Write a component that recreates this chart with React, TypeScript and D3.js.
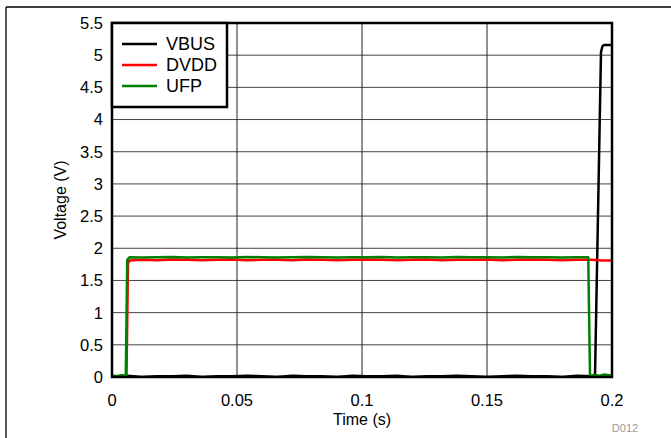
import React from "react";
import * as d3 from "d3";

// Time (s), Voltage (V) samples
const vbusT = [0, 0.006, 0.012, 0.018, 0.024, 0.03, 0.036, 0.042, 0.048, 0.054, 0.06, 0.066, 0.072, 0.078, 0.084, 0.09, 0.096, 0.102, 0.108, 0.114, 0.12, 0.126, 0.132, 0.138, 0.144, 0.15, 0.156, 0.162, 0.168, 0.174, 0.18, 0.186, 0.1925, 0.1932, 0.1956, 0.1962, 0.1968, 0.2];
const vbusV = [0.01, 0.02, 0.0, 0.01, 0.01, 0.02, 0.0, 0.01, 0.01, 0.02, 0.01, 0.0, 0.02, 0.01, 0.01, 0.0, 0.02, 0.01, 0.01, 0.02, 0.0, 0.01, 0.01, 0.02, 0.01, 0.0, 0.01, 0.02, 0.01, 0.01, 0.0, 0.02, 0.01, 0.01, 5.05, 5.14, 5.16, 5.16];

const dvddT = [0, 0.003, 0.0058, 0.0064, 0.007, 0.012, 0.018, 0.024, 0.03, 0.036, 0.042, 0.048, 0.054, 0.06, 0.066, 0.072, 0.078, 0.084, 0.09, 0.096, 0.102, 0.108, 0.114, 0.12, 0.126, 0.132, 0.138, 0.144, 0.15, 0.156, 0.162, 0.168, 0.174, 0.18, 0.186, 0.192, 0.196, 0.2];
const dvddV = [0, 0.01, 0.0, 1.76, 1.81, 1.82, 1.815, 1.825, 1.82, 1.815, 1.82, 1.825, 1.815, 1.82, 1.82, 1.815, 1.825, 1.82, 1.815, 1.82, 1.825, 1.82, 1.815, 1.82, 1.825, 1.815, 1.82, 1.82, 1.825, 1.815, 1.82, 1.825, 1.82, 1.815, 1.82, 1.82, 1.81, 1.81];

const ufpT = [0, 0.002, 0.004, 0.0055, 0.0061, 0.007, 0.012, 0.018, 0.024, 0.03, 0.036, 0.042, 0.048, 0.054, 0.06, 0.066, 0.072, 0.078, 0.084, 0.09, 0.096, 0.102, 0.108, 0.114, 0.12, 0.126, 0.132, 0.138, 0.144, 0.15, 0.156, 0.162, 0.168, 0.174, 0.18, 0.186, 0.1905, 0.1912, 0.193, 0.195, 0.197, 0.2];
const ufpV = [0.02, 0.01, 0.03, 0.0, 1.82, 1.86, 1.855, 1.86, 1.865, 1.855, 1.86, 1.86, 1.855, 1.865, 1.86, 1.855, 1.86, 1.865, 1.86, 1.855, 1.86, 1.86, 1.865, 1.855, 1.86, 1.86, 1.855, 1.865, 1.86, 1.86, 1.855, 1.865, 1.86, 1.86, 1.855, 1.86, 1.86, 0.02, 0.03, 0.02, 0.04, 0.02];

const xTicks = [0, 0.05, 0.1, 0.15, 0.2];
const xTickLabels = ["0", "0.05", "0.1", "0.15", "0.2"];
const yTicks = [0, 0.5, 1, 1.5, 2, 2.5, 3, 3.5, 4, 4.5, 5, 5.5];
const yTickLabels = ["0", "0.5", "1", "1.5", "2", "2.5", "3", "3.5", "4", "4.5", "5", "5.5"];

const seriesNames = ["VBUS", "DVDD", "UFP"];
const seriesColors = ["#000000", "#ff0000", "#008000"];

export default function App() {
  const W = 671, H = 438;
  const left = 112, right = 612, top = 23, bottom = 377;
  const x = d3.scaleLinear().domain([0, 0.2]).range([left, right]);
  const y = d3.scaleLinear().domain([0, 5.5]).range([bottom, top]);
  const line = d3.line<[number, number]>().x(d => x(d[0])).y(d => y(d[1]));
  const series: [number, number][][] = [
    vbusT.map((t, i) => [t, vbusV[i]] as [number, number]),
    dvddT.map((t, i) => [t, dvddV[i]] as [number, number]),
    ufpT.map((t, i) => [t, ufpV[i]] as [number, number]),
  ];
  const font = "'Liberation Sans', Arial, sans-serif";
  const order = [0, 1, 2];
  return (
    <div style={{ position: "absolute", left: 0, top: 0 }}>
      <svg width={W} height={H} style={{ display: "block", fontFamily: font }}>
        <rect width={W} height={H} fill="#fff" />
        <line x1={6} y1={7} x2={W} y2={7} stroke="#000" strokeWidth={1.3} />
        <line x1={6} y1={7} x2={6} y2={H} stroke="#000" strokeWidth={1.3} />
        <defs>
          <clipPath id="plotclip">
            <rect x={left} y={top} width={right - left} height={bottom - top} />
          </clipPath>
        </defs>
        {yTicks.map(v => (
          <line key={"gy" + v} x1={left} x2={right} y1={y(v)} y2={y(v)} stroke="#444" strokeWidth={1} />
        ))}
        {xTicks.map(v => (
          <line key={"gx" + v} x1={x(v)} x2={x(v)} y1={top} y2={bottom} stroke="#222" strokeWidth={1} />
        ))}
        <g clipPath="url(#plotclip)">
          {order.map(i => (
            <path key={seriesNames[i]} d={line(series[i]) || ""} fill="none" stroke={seriesColors[i]} strokeWidth={2.5} strokeLinejoin="round" />
          ))}
        </g>
        <rect x={left} y={top} width={right - left} height={bottom - top} fill="none" stroke="#000" strokeWidth={2.5} />
        {yTicks.map((v, i) => (
          <text key={"ty" + v} x={left - 9} y={y(v)} dy="0.36em" textAnchor="end" fontSize={16.5} fill="#000">{yTickLabels[i]}</text>
        ))}
        {xTicks.map((v, i) => (
          <text key={"tx" + v} x={x(v)} y={406} textAnchor="middle" fontSize={16.5} fill="#000">{xTickLabels[i]}</text>
        ))}
        <text x={362} y={425} textAnchor="middle" fontSize={16} fill="#000">Time (s)</text>
        <text transform={`translate(66,${(top + bottom) / 2}) rotate(-90)`} textAnchor="middle" fontSize={16} fill="#000">Voltage (V)</text>
        <text x={625} y={432} textAnchor="middle" fontSize={11} fill="#999">D012</text>
        <rect x={left} y={top} width={115} height={84} fill="#fff" stroke="#000" strokeWidth={2.5} />
        {seriesNames.map((n, i) => (
          <g key={"lg" + n}>
            <line x1={122} x2={157} y1={44 + i * 21} y2={44 + i * 21} stroke={seriesColors[i]} strokeWidth={2.5} />
            <text x={166} y={44 + i * 21} dy="0.36em" fontSize={18} fill="#000">{n}</text>
          </g>
        ))}
      </svg>
    </div>
  );
}
